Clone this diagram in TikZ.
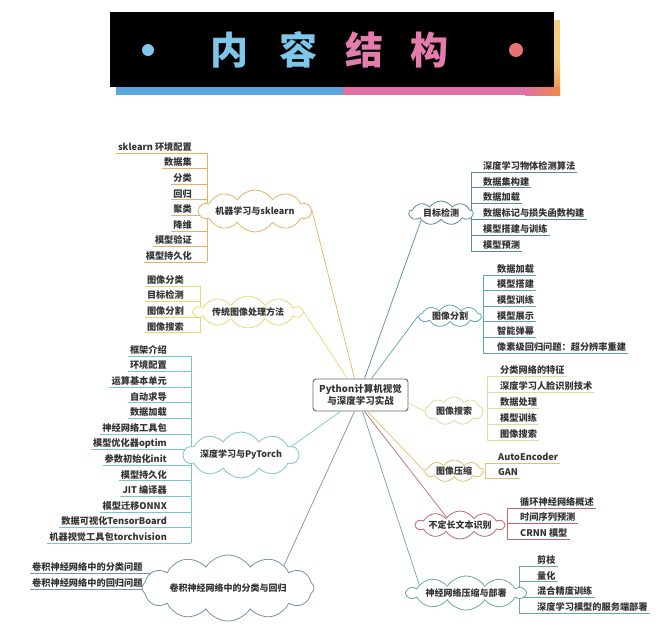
\documentclass[tikz,border=0pt]{standalone}
\usepackage{fontspec}
\setmainfont{Noto Sans CJK SC}
\usetikzlibrary{shapes.symbols,calc}
\definecolor{txt}{HTML}{333333}
\definecolor{cA}{HTML}{E8B060}
\definecolor{cB}{HTML}{E8D870}
\definecolor{cC}{HTML}{7CC4CE}
\definecolor{cD}{HTML}{7890A8}
\definecolor{cE}{HTML}{5A8A98}
\definecolor{cF}{HTML}{5EA6B6}
\definecolor{cG}{HTML}{DEDE9C}
\definecolor{cH}{HTML}{E2C070}
\definecolor{cI}{HTML}{C06868}
\definecolor{cJ}{HTML}{6AAA98}
\definecolor{tblue}{HTML}{7EC6EA}
\definecolor{tpink}{HTML}{E47CAE}
\definecolor{sblue}{HTML}{5AA6DC}
\definecolor{spink}{HTML}{E070A4}
\definecolor{sorange}{HTML}{EE8A4A}
\definecolor{syellow}{HTML}{F0D080}
\definecolor{dotred}{HTML}{E87272}
\begin{document}
\begin{tikzpicture}[x=1pt,y=-1pt,
  leaf/.style={font=\fontsize{9.2}{10}\selectfont\bfseries, text=txt, inner xsep=2pt, inner ysep=1pt, text height=7.5pt, text depth=1.5pt},
  cl/.style={cloud, cloud puffs=10, cloud puff arc=115, cloud ignores aspect, draw=#1, fill=white, line width=0.8pt, inner sep=0pt, font=\fontsize{9}{10}\selectfont\bfseries, text=txt},
  ln/.style={draw=#1, line width=0.7pt},
  ttl/.style={font=\fontsize{38}{40}\selectfont\bfseries, inner sep=0pt}]
\useasboundingbox (0,0) rectangle (670,635);
% ---------- title ----------
\fill[syellow] (554,20) rectangle (560,60);
\shade[top color=syellow, bottom color=sorange] (554,60) rectangle (560,95);
\fill[sblue] (116,87) rectangle (343,95);
\fill[spink] (343,87) rectangle (525,95);
\shade[left color=spink, right color=sorange] (525,87) rectangle (560,95);
\fill[black] (110,12) rectangle (554,87);
\fill[tblue] (148,50) circle (6);
\fill[dotred] (516,50) circle (7);
\node[ttl, text=tblue] (t1) at (229,50) {内};
\node[ttl, text=tblue] (t2) at (298,50) {容};
\node[ttl, text=tpink] (t3) at (364,50) {结};
\node[ttl, text=tpink] (t4) at (429,50) {构};
% ---------- bars ----------
\coordinate (bA) at (207,0);
\coordinate (bB) at (200,0);
\coordinate (bC) at (191,0);
\coordinate (bD) at (165,0);
\coordinate (bE) at (471,0);
\coordinate (bF) at (483,0);
\coordinate (bG) at (487,0);
\coordinate (bH) at (485,0);
\coordinate (bI) at (507,0);
\coordinate (bJ) at (519,0);
% ---------- left leaves ----------
\foreach \t [count=\i] in {sklearn 环境配置,数据集,分类,回归,聚类,降维,模型验证,模型持久化}{
  \node[leaf, anchor=south east] (a\i) at (194,{153+15.6*(\i-1)}) {\t};
  \draw[ln=cA] (a\i.south west) -- (a\i.south west -| bA);}
\draw[ln=cA] (a1.south west -| bA) -- (a8.south west -| bA);
\foreach \t [count=\i] in {图像分类,目标检测,图像分割,图像搜索}{
  \node[leaf, anchor=south east] (b\i) at (186,{286+15.6*(\i-1)}) {\t};
  \draw[ln=cB] (b\i.south west) -- (b\i.south west -| bB);}
\draw[ln=cB] (b1.south west -| bB) -- (b4.south west -| bB);
\foreach \t [count=\i] in {框架介绍,环境配置,运算基本单元,自动求导,数据加载,神经网络工具包,模型优化器optim,参数初始化init,模型持久化,JIT 编译器,模型迁移ONNX,数据可视化TensorBoard,机器视觉工具包torchvision}{
  \node[leaf, anchor=south east] (c\i) at (169,{356+15.6*(\i-1)}) {\t};
  \draw[ln=cC] (c\i.south west) -- (c\i.south west -| bC);}
\draw[ln=cC] (c1.south west -| bC) -- (c13.south west -| bC);
\foreach \t [count=\i] in {卷积神经网络中的分类问题,卷积神经网络中的回归问题}{
  \node[leaf, anchor=south west] (d\i) at (30,{573+16*(\i-1)}) {\t};
  \draw[ln=cD] (d\i.south west) -- (d\i.south west -| bD);}
\draw[ln=cD] (d1.south west -| bD) -- (d2.south west -| bD);
% ---------- right leaves ----------
\foreach \t [count=\i] in {深度学习物体检测算法,数据集构建,数据加载,数据标记与损失函数构建,模型搭建与训练,模型预测}{
  \node[leaf, anchor=south west] (e\i) at (481,{172+15.8*(\i-1)}) {\t};
  \draw[ln=cE] (e\i.south east) -- (e\i.south east -| bE);}
\draw[ln=cE] (e1.south east -| bE) -- (e6.south east -| bE);
\foreach \t [count=\i] in {数据加载,模型搭建,模型训练,模型展示,智能弹幕,像素级回归问题：超分辨率重建}{
  \node[leaf, anchor=south west] (f\i) at (495,{275+15.6*(\i-1)}) {\t};
  \draw[ln=cF] (f\i.south east) -- (f\i.south east -| bF);}
\draw[ln=cF] (f1.south east -| bF) -- (f6.south east -| bF);
\foreach \t [count=\i] in {分类网络的特征,深度学习人脸识别技术,数据处理,模型训练,图像搜索}{
  \node[leaf, anchor=south west] (g\i) at (498,{376+16*(\i-1)}) {\t};
  \draw[ln=cG] (g\i.south east) -- (g\i.south east -| bG);}
\draw[ln=cG] (g1.south east -| bG) -- (g5.south east -| bG);
\foreach \t [count=\i] in {AutoEncoder,GAN}{
  \node[leaf, anchor=south west] (h\i) at (496,{463+15*(\i-1)}) {\t};
  \draw[ln=cH] (h\i.south east) -- (h\i.south east -| bH);}
\draw[ln=cH] (h1.south east -| bH) -- (h2.south east -| bH);
\foreach \t [count=\i] in {循环神经网络概述,时间序列预测,CRNN 模型}{
  \node[leaf, anchor=south west] (k\i) at (518,{508+15.5*(\i-1)}) {\t};
  \draw[ln=cI] (k\i.south east) -- (k\i.south east -| bI);}
\draw[ln=cI] (k1.south east -| bI) -- (k3.south east -| bI);
\foreach \t [count=\i] in {剪枝,量化,混合精度训练,深度学习模型的服务端部署}{
  \node[leaf, anchor=south west] (m\i) at (535,{566+15.7*(\i-1)}) {\t};
  \draw[ln=cJ] (m\i.south east) -- (m\i.south east -| bJ);}
\draw[ln=cJ] (m1.south east -| bJ) -- (m4.south east -| bJ);
% ---------- centre ----------
\node[draw=black!60, line width=0.9pt, rounded corners=3pt, fill=white, minimum width=95pt, minimum height=32pt, inner sep=0pt, align=center, font=\fontsize{9.5}{11.5}\selectfont\bfseries, text=txt] (ctr) at (360.5,395) {Python计算机视觉\\与深度学习实战};
% ---------- clouds ----------
\node[cl=cA, minimum width=112pt, minimum height=42pt] (cA) at (255,211) {机器学习与sklearn};
\node[cl=cB, minimum width=108pt, minimum height=32pt] (cB) at (248,312) {传统图像处理方法};
\node[cl=cC, minimum width=115pt, minimum height=46pt] (cC) at (241,455) {深度学习与PyTorch};
\node[cl=cD, cloud puffs=12, minimum width=172pt, minimum height=66pt] (cD) at (228,588) {卷积神经网络中的分类与回归};
\node[cl=cE, cloud puffs=9, minimum width=64pt, minimum height=24pt] (cE) at (441,213) {目标检测};
\node[cl=cF, cloud puffs=9, minimum width=62pt, minimum height=22pt] (cF) at (450,316) {图像分割};
\node[cl=cG, cloud puffs=9, minimum width=58pt, minimum height=28pt] (cG) at (454,411) {图像搜索};
\node[cl=cH, cloud puffs=9, minimum width=58pt, minimum height=22pt] (cH) at (454,471) {图像压缩};
\node[cl=cI, minimum width=88pt, minimum height=28pt] (cI) at (460,525) {不定长文本识别};
\node[cl=cJ, minimum width=118pt, minimum height=34pt] (cJ) at (466,593) {神经网络压缩与部署};
% ---------- connectors ----------
\draw[ln=cA] ([xshift=-6pt]ctr.north) -- (cA.east);
\draw[ln=cB] ([xshift=-13pt]ctr.north) -- (cB.east);
\draw[ln=cE] ([xshift=4pt]ctr.north) -- (cE.200);
\draw[ln=cF] ([xshift=11pt]ctr.north) -- (cF.west);
\draw[ln=cG] ([yshift=-8pt]ctr.east) -- (cG.west);
\draw[ln=cC] ([xshift=-20pt]ctr.south) -- (cC.10);
\draw[ln=cD] ([xshift=-6pt]ctr.south) -- (cD.22);
\draw[ln=cH] ([xshift=7pt]ctr.south) -- (cH.west);
\draw[ln=cI] ([xshift=4pt]ctr.south) -- (cI.150);
\draw[ln=cJ] ([xshift=2pt]ctr.south) -- (cJ.170);
\end{tikzpicture}
\end{document}
